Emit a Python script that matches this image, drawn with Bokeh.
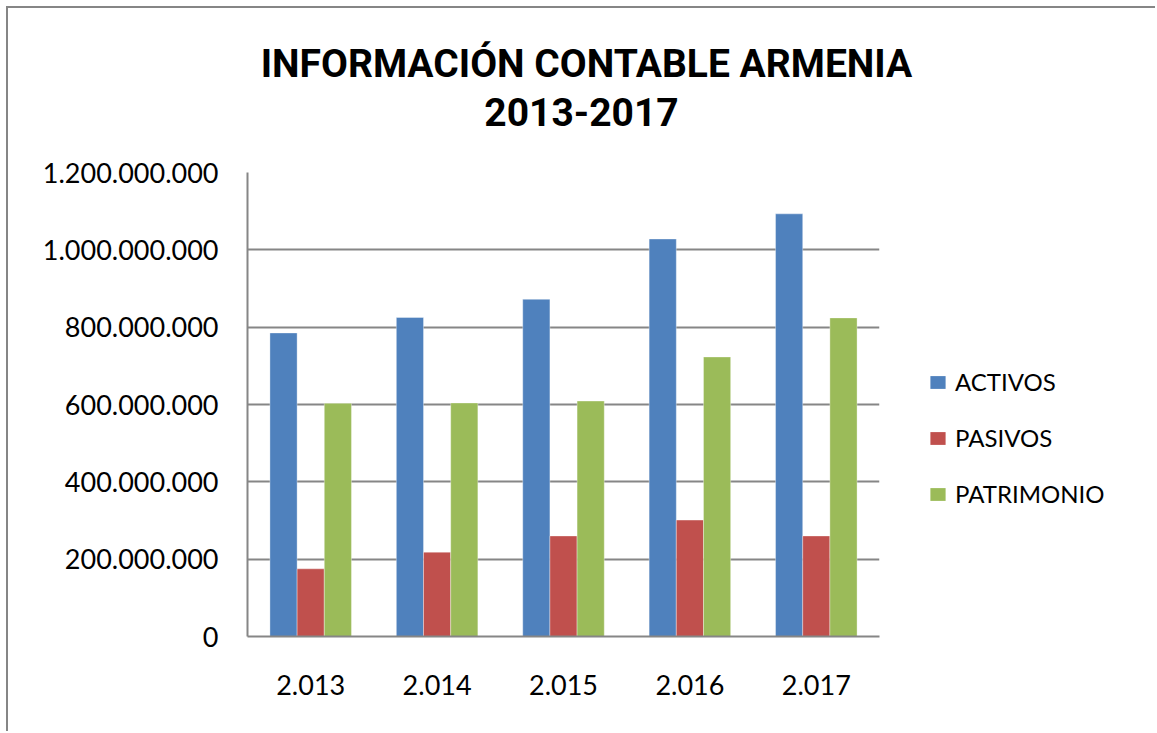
from bokeh.plotting import figure
from bokeh.layouts import column, row
from bokeh.models import FactorRange, Range1d, FixedTicker, Legend, LegendItem, Label
from bokeh.transform import dodge
from bokeh.embed import file_html
from bokeh.resources import INLINE

# ---- data ----
years = ["2.013", "2.014", "2.015", "2.016", "2.017"]
activos = [785_000_000, 825_000_000, 872_000_000, 1_028_000_000, 1_093_000_000]
pasivos = [175_000_000, 218_000_000, 260_000_000, 301_000_000, 260_000_000]
patrimonio = [603_000_000, 604_000_000, 609_000_000, 723_000_000, 824_000_000]
series_names = ["ACTIVOS", "PASIVOS", "PATRIMONIO"]
colors = ["#4F81BD", "#C0504D", "#9BBB59"]
y_ticks = [0, 200_000_000, 400_000_000, 600_000_000, 800_000_000, 1_000_000_000, 1_200_000_000]
y_tick_labels = ["0", "200.000.000", "400.000.000", "600.000.000", "800.000.000",
                 "1.000.000.000", "1.200.000.000"]
title_lines = ["INFORMACIÓN CONTABLE ARMENIA", "2013-2017"]

FONT = "Lato"
TFONT = "Roboto"
GRAY = "#868686"
TOTAL_W = 1147
TITLE_H = 144
MAIN_W = 873
MAIN_H = 579


def bare(fig):
    fig.outline_line_color = None
    fig.background_fill_color = "white"
    fig.border_fill_color = "white"
    fig.xgrid.visible = False
    fig.ygrid.visible = False
    return fig


# ---- title strip ----
pt = figure(width=TOTAL_W, height=TITLE_H, x_range=Range1d(0, TOTAL_W),
            y_range=Range1d(0, TITLE_H), output_backend="svg", toolbar_location=None,
            x_axis_location=None, y_axis_location=None,
            min_border=0)
bare(pt)
for line, cx, cy in zip(title_lines, [578, 573], [89, 41]):
    pt.add_layout(Label(x=cx, y=cy, text=line, text_align="center",
                        text_baseline="middle", text_font=TFONT,
                        text_font_style="bold", text_font_size="39px",
                        text_color="black"))

# ---- main chart ----
p = figure(
    x_range=FactorRange(factors=years, range_padding=0),
    y_range=Range1d(0, 1_200_000_000),
    width=MAIN_W, height=MAIN_H,
    output_backend="svg", toolbar_location=None,
    min_border_left=239, min_border_right=2,
    min_border_top=20, min_border_bottom=95,
)
p.outline_line_color = None
p.background_fill_color = "white"
p.border_fill_color = "white"

data = dict(years=years, activos=activos, pasivos=pasivos, patrimonio=patrimonio)
keys = ["activos", "pasivos", "patrimonio"]
offsets = [-0.215, 0.0, 0.215]
for k, off, c in zip(keys, offsets, colors):
    p.vbar(x=dodge("years", off, range=p.x_range), top=k, width=0.215,
           source=data, fill_color=c, line_color="white", line_alpha=0.35,
           line_width=1)

p.xgrid.grid_line_color = None
p.ygrid.grid_line_color = GRAY
p.ygrid.grid_line_width = 2
p.yaxis.ticker = FixedTicker(ticks=y_ticks)
p.yaxis.major_label_overrides = {t: l for t, l in zip(y_ticks, y_tick_labels)}
for ax in (p.xaxis[0], p.yaxis[0]):
    ax.axis_line_color = GRAY
    ax.axis_line_width = 2
    ax.major_tick_line_color = None
    ax.minor_tick_line_color = None
    ax.major_tick_in = 0
    ax.major_tick_out = 0
    ax.minor_tick_in = 0
    ax.minor_tick_out = 0
    ax.major_label_text_font = FONT
    ax.major_label_text_font_size = "27px"
    ax.major_label_text_color = "black"
p.yaxis.major_label_standoff = 29
p.xaxis.major_label_standoff = 38

# ---- legend strip ----
pl = figure(width=TOTAL_W - MAIN_W, height=MAIN_H, x_range=Range1d(0, 1),
            y_range=Range1d(0, 1), output_backend="svg", toolbar_location=None,
            x_axis_location=None, y_axis_location=None, min_border=0)
bare(pl)
swatch = dict(x=[float("nan")], top=[float("nan")])  # legend swatches only
leg_renderers = [pl.vbar(x="x", top="top", width=0.1, source=swatch, fill_color=c,
                         line_color=None) for c in colors]
items = [LegendItem(label=n, renderers=[r], index=0)
         for n, r in zip(series_names, leg_renderers)]
legend = Legend(items=items, location=(47, 128), orientation="vertical",
                glyph_width=19, glyph_height=16, label_height=26, spacing=27,
                label_standoff=8, padding=0, margin=0,
                label_text_font=FONT, label_text_font_size="24px",
                label_text_color="black",
                border_line_color=None, background_fill_alpha=0)
pl.add_layout(legend, "center")

layout = column(pt, row(p, pl, spacing=0), spacing=0)
layout.styles = {"border-left": f"2px solid {GRAY}", "border-top": f"2px solid {GRAY}",
                 "margin-left": "6px", "margin-top": "6px"}

open("out.html", "w").write(file_html(layout, INLINE))
